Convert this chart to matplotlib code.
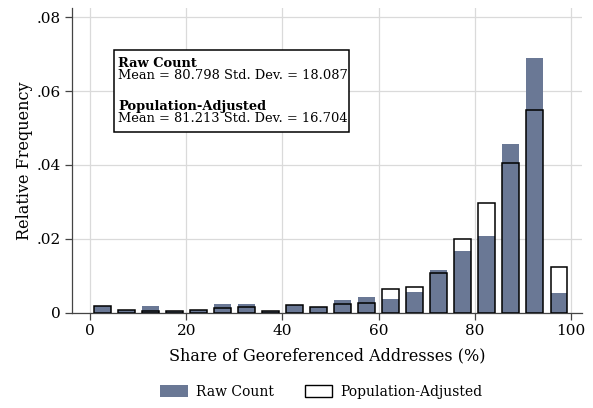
import numpy as np
import matplotlib
matplotlib.use("Agg")
from matplotlib import pyplot as plt
from matplotlib.patches import Patch, Rectangle

plt.rcParams['font.family'] = ['DejaVu Serif']

# 5-point bins of the share of georeferenced addresses
bin_left = np.arange(0, 100, 5)
raw_count = [0.0018, 0.0007, 0.0019, 0.0005, 0.0007, 0.0023, 0.0025, 0.0005,
             0.0021, 0.0015, 0.0036, 0.0043, 0.0039, 0.0057, 0.0116, 0.0168,
             0.0208, 0.0457, 0.0689, 0.0053]
pop_adjusted = [0.0019, 0.0008, 0.0004, 0.0006, 0.0008, 0.0012, 0.0016, 0.0006,
                0.0022, 0.0015, 0.0023, 0.0026, 0.0065, 0.0071, 0.0107, 0.0200,
                0.0297, 0.0406, 0.0549, 0.0125]
yticks = [0, 0.02, 0.04, 0.06, 0.08]
ylabels = ['0', '.02', '.04', '.06', '.08']
summary = [("Raw Count", "Mean = 80.798 Std. Dev. = 18.087"),
           ("Population-Adjusted", "Mean = 81.213 Std. Dev. = 16.704")]

navy = '#6a7895'
grey = '#444444'

fig = plt.figure(figsize=(5.93, 4.08), dpi=100)
ax = fig.add_axes([0.1215, 0.233, 0.860, 0.747])

centers = bin_left + 2.5
w = 3.5
ax.bar(centers, pop_adjusted, width=w, color='white', lw=0, zorder=2)
ax.bar(centers, raw_count, width=w, color=navy, lw=0, zorder=3)
ax.bar(centers, pop_adjusted, width=w, facecolor='none', edgecolor='black',
       lw=1.1, zorder=4)

ax.set_xlim(-3.75, 102.3)
ax.set_ylim(0, 0.0824)
ax.set_xticks([0, 20, 40, 60, 80, 100])
ax.set_yticks(yticks)
ax.set_yticklabels(ylabels)
ax.grid(True, color='#dadada', lw=0.9, zorder=0)
ax.set_axisbelow(True)
for s in ['top', 'right']:
    ax.spines[s].set_visible(False)
for s in ['left', 'bottom']:
    ax.spines[s].set_color(grey)
    ax.spines[s].set_linewidth(0.9)
ax.tick_params(colors=grey, labelcolor='black', labelsize=11, length=5,
               width=0.9, pad=3)

ax.set_xlabel('Share of Georeferenced Addresses (%)', fontsize=11.5, labelpad=7)
ax.set_ylabel('Relative Frequency', fontsize=11.5, labelpad=3)

# summary statistics box
ax.add_patch(Rectangle((0.0824, 0.593), 0.4608, 0.269, transform=ax.transAxes,
                       facecolor='white', edgecolor='black', lw=1.1, zorder=6))
baselines = [(0.807, 0.767), (0.666, 0.626)]
for (head, stat), (yh, ys) in zip(summary, baselines):
    ax.text(0.090, yh, head, transform=ax.transAxes, fontsize=9.4,
            fontweight='bold', va='baseline', ha='left', zorder=7)
    ax.text(0.090, ys, stat, transform=ax.transAxes, fontsize=9.4,
            va='baseline', ha='left', zorder=7)

handles = [Patch(facecolor=navy, edgecolor='none', label='Raw Count'),
           Patch(facecolor='white', edgecolor='black', lw=1.0,
                 label='Population-Adjusted')]
fig.legend(handles=handles, loc='center', bbox_to_anchor=(0.542, 0.04), ncol=2,
           frameon=False, fontsize=10, handlelength=2.0, handleheight=0.95,
           columnspacing=2.2, handletextpad=0.6)

fig.savefig('out.png', dpi=100)
